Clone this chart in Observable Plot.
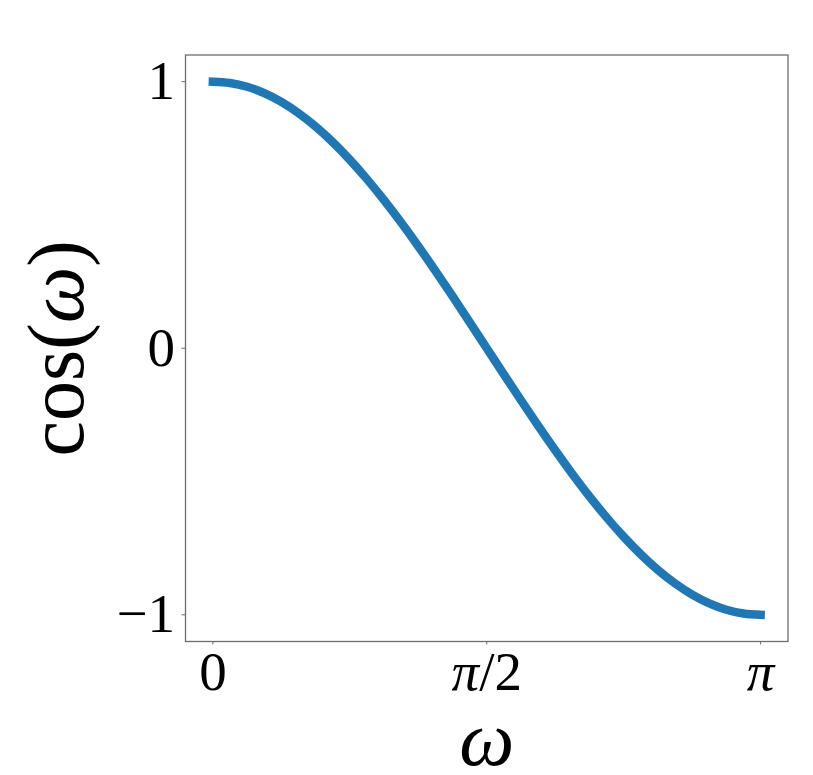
<!DOCTYPE html>
<html>
<head>
<meta charset="utf-8">
<script src="https://cdn.jsdelivr.net/npm/d3@7"></script>
<script src="https://cdn.jsdelivr.net/npm/@observablehq/plot@0.6"></script>
<style>
  html, body { margin: 0; padding: 0; background: white; }
  svg text, svg tspan { font-family: "Liberation Serif", serif !important; }
</style>
</head>
<body>
<div id="chart"></div>
<script>
// ω values (0 … π)
const omega = [0, 0.0982, 0.1963, 0.2945, 0.3927, 0.4909, 0.5890, 0.6872, 0.7854, 0.8836,
  0.9817, 1.0799, 1.1781, 1.2763, 1.3744, 1.4726, 1.5708, 1.6690, 1.7671, 1.8653,
  1.9635, 2.0617, 2.1598, 2.2580, 2.3562, 2.4544, 2.5525, 2.6507, 2.7489, 2.8471,
  2.9452, 3.0434, 3.1416];
// cos(ω) values
const cosValues = [1, 0.9952, 0.9808, 0.9569, 0.9239, 0.8819, 0.8315, 0.7730, 0.7071, 0.6344,
  0.5556, 0.4714, 0.3827, 0.2903, 0.1951, 0.0980, 0, -0.0980, -0.1951, -0.2903,
  -0.3827, -0.4714, -0.5556, -0.6344, -0.7071, -0.7730, -0.8315, -0.8819, -0.9239, -0.9569,
  -0.9808, -0.9952, -1];
const xTicks = [0, 1.5708, 3.1416];
const xTickLabels = ["0", "π/2", "π"];
const yTicks = [-1, 0, 1];
const yTickLabels = ["−1", "0", "1"];
const xLabel = "ω";
const yLabel = "cos(ω)";

const data = omega.map((w, i) => ({w, c: cosValues[i]}));
const xMap = new Map(xTicks.map((t, i) => [t, xTickLabels[i]]));
const yMap = new Map(yTicks.map((t, i) => [t, yTickLabels[i]]));

const [x0, x1] = d3.extent(omega);
const [y0, y1] = d3.extent(cosValues);
const xPad = 0.05 * (x1 - x0), yPad = 0.05 * (y1 - y0);

const serif = "Liberation Serif";
const gray = "#6e6e6e";
const plot = Plot.plot({
  width: 813,
  height: 775,
  marginLeft: 185,
  marginRight: 25.5,
  marginTop: 54.5,
  marginBottom: 134,
  style: {fontFamily: serif, background: "white", color: "black"},
  x: {domain: [x0 - xPad, x1 + xPad]},
  y: {domain: [y0 - yPad, y1 + yPad]},
  marks: [
    Plot.frame({stroke: gray, strokeWidth: 1.3}),
    Plot.axisX(xTicks, {tickFormat: d => xMap.get(d), tickSize: 3.5, tickPadding: 6, fontSize: 55, stroke: gray, fill: "black", label: null}),
    Plot.axisY(yTicks, {tickFormat: d => yMap.get(d), tickSize: 3.5, tickPadding: 7, fontSize: 55, stroke: gray, fill: "black", label: null}),
    Plot.line(data, {x: "w", y: "c", stroke: "#1f77b4", strokeWidth: 8.5, strokeLinecap: "square", curve: "monotone-x"}),
    Plot.text([xLabel], {text: d => d, frameAnchor: "bottom", textAnchor: "middle", lineAnchor: "bottom", dy: 123, fontSize: 78, fontStyle: "italic", fill: "black"}),
    Plot.text([yLabel], {text: d => d, frameAnchor: "left", textAnchor: "middle", lineAnchor: "bottom", rotate: -90, dx: -103, fontSize: 80, fill: "black"})
  ]
});
document.getElementById("chart").appendChild(plot);

// italicize Greek letters in tick labels and the y label
plot.querySelectorAll("text").forEach(t => {
  const s = t.textContent;
  if (/[πω]/.test(s) && s.length > 1) {
    t.textContent = "";
    for (const part of s.split(/([πω])/)) {
      if (!part) continue;
      const ts = document.createElementNS("http://www.w3.org/2000/svg", "tspan");
      ts.textContent = part;
      if (part === "π" || part === "ω") ts.setAttribute("font-style", "italic");
      t.appendChild(ts);
    }
  } else if (s === "π") {
    t.setAttribute("font-style", "italic");
  }
});
</script>
</body>
</html>
